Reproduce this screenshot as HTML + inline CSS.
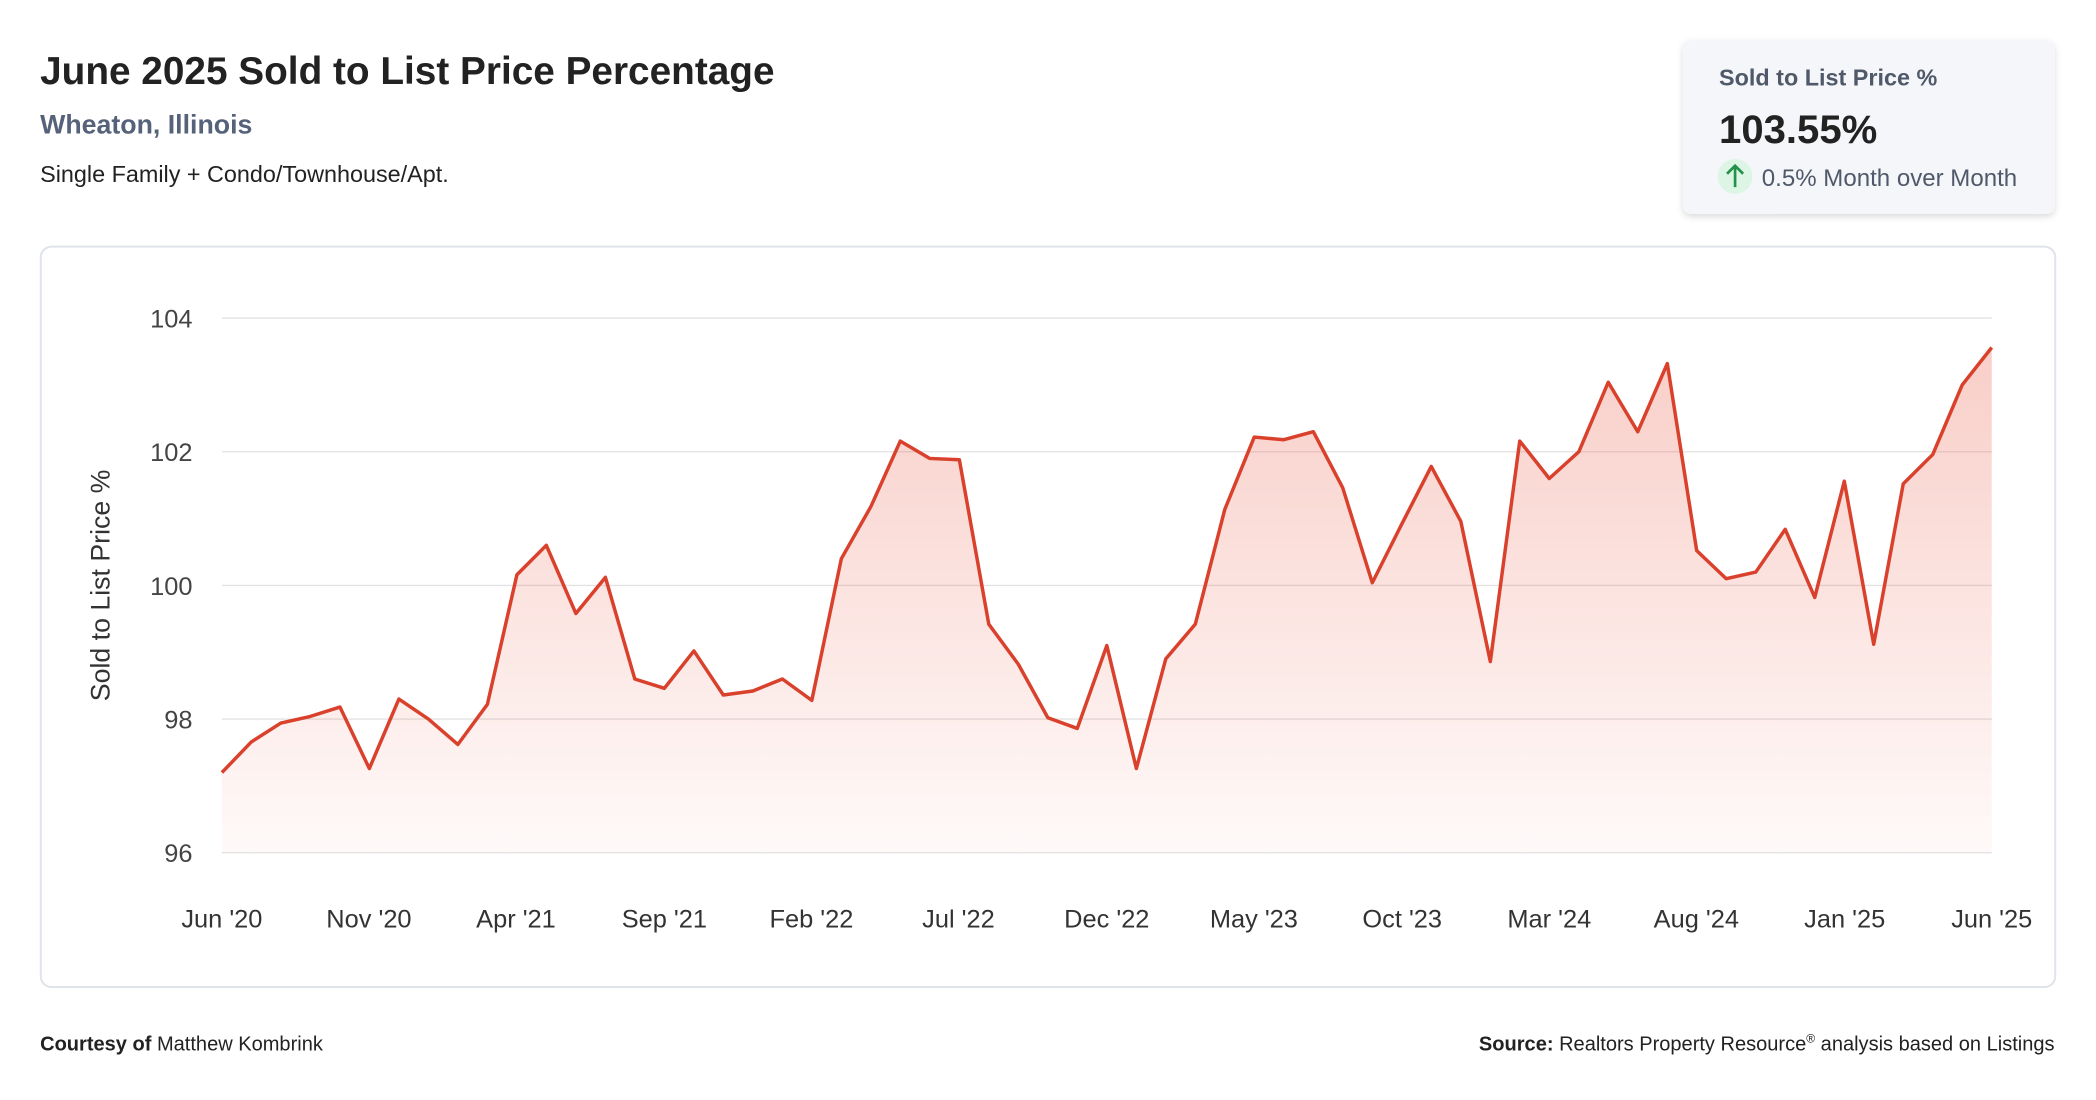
<!DOCTYPE html>
<html><head><meta charset="utf-8"><style>
html,body{margin:0;padding:0;background:#fff;}
svg{display:block}
</style></head><body>
<svg width="2096" height="1100" viewBox="0 0 1568 823" preserveAspectRatio="none" xmlns="http://www.w3.org/2000/svg" font-family="Liberation Sans, Arial, sans-serif">
<defs>
<linearGradient id="g" x1="0" y1="0" x2="0" y2="1"><stop offset="0" stop-color="#e8503a" stop-opacity="0.28"/><stop offset="1" stop-color="#e8503a" stop-opacity="0.03"/></linearGradient>
<filter id="sh" x="-10%" y="-10%" width="120%" height="130%"><feDropShadow dx="0" dy="2" stdDeviation="2.5" flood-color="#000" flood-opacity="0.15"/></filter>
</defs>
<text x="30" y="63" font-size="29" font-weight="bold" fill="#222">June 2025 Sold to List Price Percentage</text>
<text x="30" y="100" font-size="20" font-weight="bold" fill="#55627a">Wheaton, Illinois</text>
<text x="30" y="136" font-size="17.5" fill="#222">Single Family + Condo/Townhouse/Apt.</text>
<rect x="1259" y="30" width="278" height="130" rx="6" fill="#f5f6f9" filter="url(#sh)"/>
<text x="1286" y="64" font-size="17.5" font-weight="bold" fill="#4f5969">Sold to List Price %</text>
<text x="1286" y="107" font-size="30" font-weight="bold" fill="#222">103.55%</text>
<circle cx="1298" cy="132" r="13" fill="#dcf5e4"/>
<path d="M1298 140 V124 M1292 130 L1298 124 L1304 130" stroke="#22924a" stroke-width="2" fill="none"/>
<text x="1318" y="139" font-size="18" fill="#4f5969">0.5% Month over Month</text>
<rect x="30.5" y="184.5" width="1507" height="554" rx="8" fill="#fff" stroke="#dfe3ea" stroke-width="1.5"/>
<g stroke="#e2e2e2" stroke-width="1">
<line x1="166" y1="238" x2="1490" y2="238"/><line x1="166" y1="338" x2="1490" y2="338"/><line x1="166" y1="438" x2="1490" y2="438"/><line x1="166" y1="538" x2="1490" y2="538"/><line x1="166" y1="638" x2="1490" y2="638"/>
</g>
<g font-size="19" fill="#444" text-anchor="end">
<text x="144" y="245">104</text><text x="144" y="345">102</text><text x="144" y="445">100</text><text x="144" y="545">98</text><text x="144" y="645">96</text>
</g>
<text transform="translate(82 438) rotate(-90)" font-size="20" fill="#333" text-anchor="middle">Sold to List Price %</text>
<g font-size="19" fill="#333" text-anchor="middle">
<text x="166" y="694">Jun '20</text><text x="276" y="694">Nov '20</text><text x="386" y="694">Apr '21</text><text x="497" y="694">Sep '21</text><text x="607" y="694">Feb '22</text><text x="717" y="694">Jul '22</text><text x="828" y="694">Dec '22</text><text x="938" y="694">May '23</text><text x="1049" y="694">Oct '23</text><text x="1159" y="694">Mar '24</text><text x="1269" y="694">Aug '24</text><text x="1380" y="694">Jan '25</text><text x="1490" y="694">Jun '25</text>
</g>
<path fill="url(#g)" d="M166,638 L166,578 188.1,555 210.1,541 232.2,536 254.3,529 276.3,575 298.4,523 320.5,538 342.5,557 364.6,527 386.7,430 408.7,408 430.8,459 452.9,432 474.9,508 497,515 519.1,487 541.1,520 563.2,517 585.3,508 607.3,524 629.4,418 651.5,379 673.5,330 695.6,343 717.7,344 739.7,467 761.8,497 783.9,537 805.9,545 828,483 850.1,575 872.1,493 894.2,467 916.3,381 938.3,327 960.4,329 982.5,323 1004.5,365 1026.6,436 1048.7,392 1070.7,349 1092.8,390 1114.9,495 1136.9,330 1159,358 1181.1,338 1203.1,286 1225.2,323 1247.3,272 1269.3,412 1291.4,433 1313.5,428 1335.5,396 1357.6,447 1379.7,360 1401.7,482 1423.8,362 1445.9,340 1467.9,288 1490,260 L1490,638 Z"/>
<polyline fill="none" stroke="#d9412c" stroke-width="2.6" stroke-linejoin="round" points="166,578 188.1,555 210.1,541 232.2,536 254.3,529 276.3,575 298.4,523 320.5,538 342.5,557 364.6,527 386.7,430 408.7,408 430.8,459 452.9,432 474.9,508 497,515 519.1,487 541.1,520 563.2,517 585.3,508 607.3,524 629.4,418 651.5,379 673.5,330 695.6,343 717.7,344 739.7,467 761.8,497 783.9,537 805.9,545 828,483 850.1,575 872.1,493 894.2,467 916.3,381 938.3,327 960.4,329 982.5,323 1004.5,365 1026.6,436 1048.7,392 1070.7,349 1092.8,390 1114.9,495 1136.9,330 1159,358 1181.1,338 1203.1,286 1225.2,323 1247.3,272 1269.3,412 1291.4,433 1313.5,428 1335.5,396 1357.6,447 1379.7,360 1401.7,482 1423.8,362 1445.9,340 1467.9,288 1490,260"/>
<text x="30" y="786" font-size="15" fill="#222"><tspan font-weight="bold">Courtesy of</tspan> Matthew Kombrink</text>
<text x="1537" y="786" font-size="15" fill="#222" text-anchor="end"><tspan font-weight="bold">Source:</tspan> Realtors Property Resource<tspan font-size="9" dy="-6">®</tspan><tspan dy="6"> analysis based on Listings</tspan></text>
</svg>
</body></html>
